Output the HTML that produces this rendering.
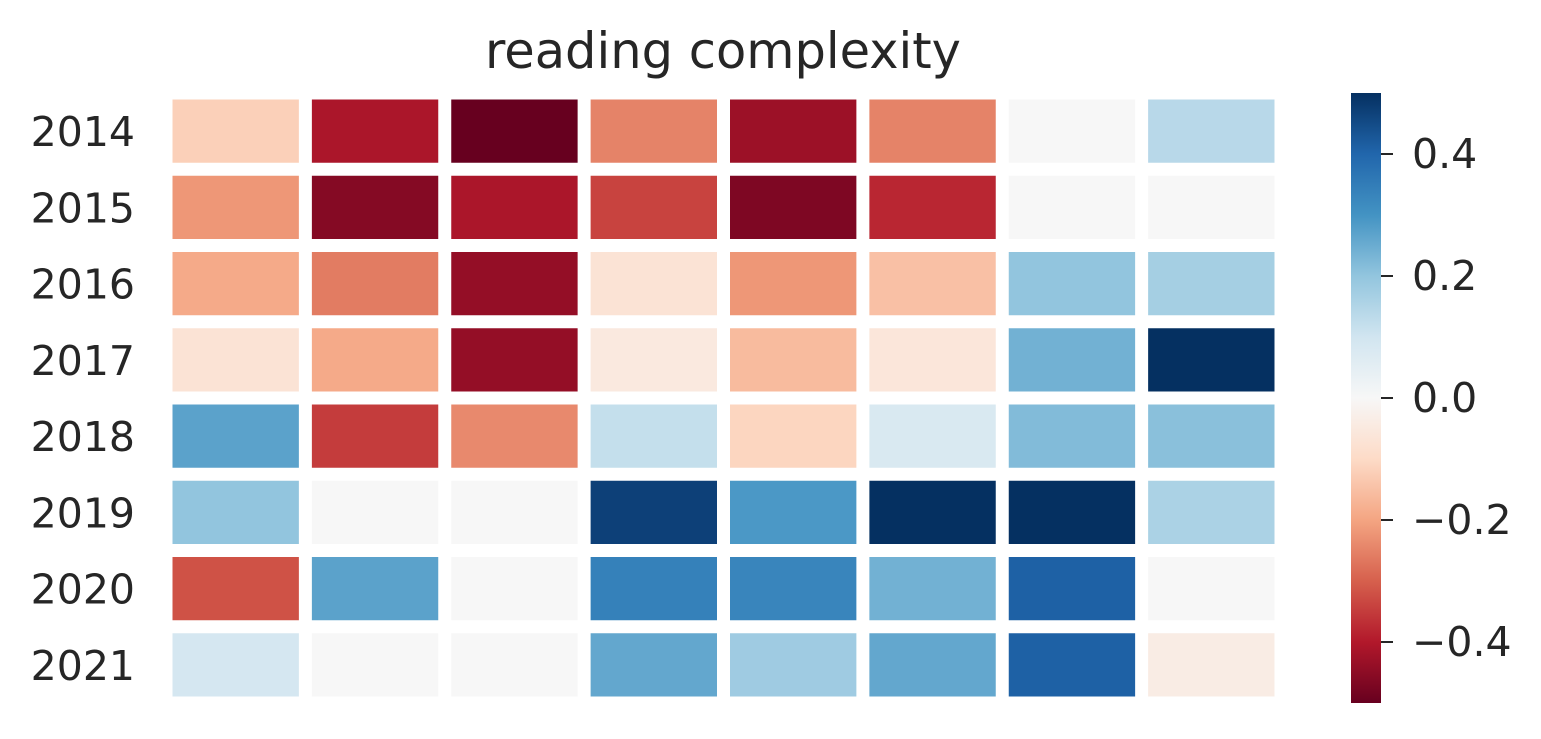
<!DOCTYPE html>
<html><head><meta charset="utf-8"><style>
html,body{margin:0;padding:0;background:#fff}
svg text{font-family:"DejaVu Sans","Liberation Sans",sans-serif;fill:#262626}
</style></head><body>
<svg id="chart" width="1541" height="734" xmlns="http://www.w3.org/2000/svg">
<defs><linearGradient id="cbg" x1="0" y1="1" x2="0" y2="0"></linearGradient></defs>
<text x="723" y="68" font-size="49.5" text-anchor="middle">reading complexity</text>
<g id="cells"></g><g id="ylabels"></g>
<rect x="1351" y="93" width="30" height="610" fill="url(#cbg)"/>
<g id="cbticks"></g>
</svg>
<script>
const years=["2014","2015","2016","2017","2018","2019","2020","2021"];
const row2014=[-0.12,-0.41,-0.50,-0.25,-0.43,-0.25,0.0,0.14];
const row2015=[-0.22,-0.46,-0.41,-0.34,-0.47,-0.38,0.0,0.0];
const row2016=[-0.19,-0.26,-0.44,-0.07,-0.22,-0.15,0.20,0.17];
const row2017=[-0.07,-0.19,-0.44,-0.05,-0.16,-0.06,0.24,0.50];
const row2018=[0.27,-0.35,-0.24,0.12,-0.11,0.08,0.22,0.21];
const row2019=[0.20,0.0,0.0,0.47,0.29,0.50,0.50,0.16];
const row2020=[-0.32,0.27,0.0,0.34,0.33,0.24,0.41,0.0];
const row2021=[0.09,0.0,0.0,0.26,0.18,0.26,0.41,-0.04];
const rows=[row2014,row2015,row2016,row2017,row2018,row2019,row2020,row2021];
const cbTicks=[0.4,0.2,0.0,-0.2,-0.4];
const cbTickLabels=["0.4","0.2","0.0","\u22120.2","\u22120.4"];
const vmin=-0.5,vmax=0.5;
const pal=["#67001f","#b2182b","#d6604d","#f4a582","#fddbc7","#f7f7f7","#d1e5f0","#92c5de","#4393c3","#2166ac","#053061"];
function hx(c){return [1,3,5].map(i=>parseInt(c.substr(i,2),16));}
function cmap(v){let t=(v-vmin)/(vmax-vmin);t=Math.max(0,Math.min(1,t))*10;const i=Math.min(9,Math.floor(t)),f=t-i;
const a=hx(pal[i]),b=hx(pal[i+1]);return "rgb("+a.map((x,k)=>Math.round(x+(b[k]-x)*f)).join(",")+")";}
const X0=166,X1=1281,Y0=93,Y1=703,nc=8,nr=8,gap=13;
const cw=(X1-X0)/nc,rh=(Y1-Y0)/nr;
const xs=j=>X0+j*cw,ys=i=>Y0+i*rh;
const ns="http://www.w3.org/2000/svg";
const cells=document.getElementById("cells"),yl=document.getElementById("ylabels");
rows.forEach((r,i)=>{r.forEach((v,j)=>{const e=document.createElementNS(ns,"rect");
e.setAttribute("x",xs(j)+gap/2);e.setAttribute("y",ys(i)+gap/2);e.setAttribute("width",cw-gap);e.setAttribute("height",rh-gap);e.setAttribute("fill",cmap(v));


cells.appendChild(e);});
const t=document.createElementNS(ns,"text");t.setAttribute("x",135);t.setAttribute("y",ys(i)+rh/2+15);t.setAttribute("font-size","41");t.setAttribute("text-anchor","end");t.textContent=years[i];


yl.appendChild(t);});
const g=document.getElementById("cbg");
pal.forEach((c,k)=>{const s=document.createElementNS(ns,"stop");s.setAttribute("offset",k/10);s.setAttribute("stop-color",c);g.appendChild(s);});
const cy=v=>Y1-(v-vmin)/(vmax-vmin)*(Y1-Y0);
const cb=document.getElementById("cbticks");
cbTicks.forEach((v,k)=>{const l=document.createElementNS(ns,"line");l.setAttribute("x1",1381);l.setAttribute("x2",1393);l.setAttribute("y1",cy(v));l.setAttribute("y2",cy(v));l.setAttribute("stroke","#262626");l.setAttribute("stroke-width","2");


cb.appendChild(l);
const t=document.createElementNS(ns,"text");t.setAttribute("x",1412);t.setAttribute("y",cy(v)+14);t.setAttribute("font-size","41");t.textContent=cbTickLabels[k];


cb.appendChild(t);});
</script>
</body></html>
